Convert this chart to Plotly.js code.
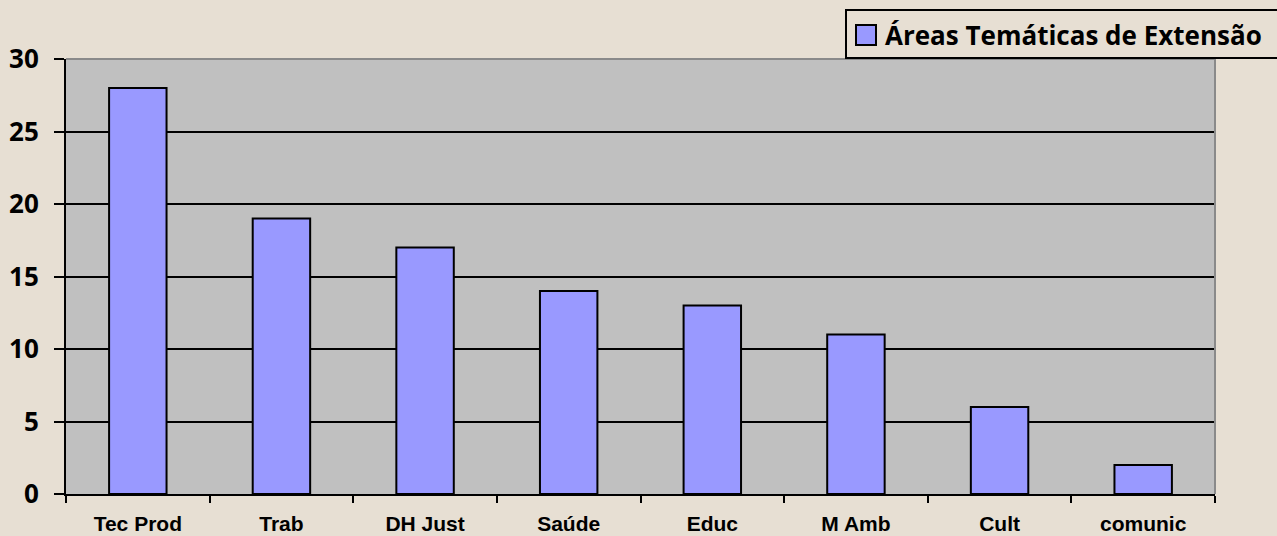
<!DOCTYPE html>
<html><head><meta charset="utf-8">
<script src="https://cdn.plot.ly/plotly-3.0.1.min.js"></script>
<style>html,body{margin:0;padding:0;background:#E7DFD3;}#chart{width:1277px;height:536px;}</style>
</head><body><div id="chart"></div>
<script>
const categories = ["Tec Prod","Trab","DH Just","Saúde","Educ","M Amb","Cult","comunic"];
const values = [28,19,17,14,13,11,6,2];
const seriesName = "Áreas Temáticas de Extensão";
const yTicks = [0,5,10,15,20,25,30];
const barColor = "#9999FF";

const trace = {
  type: "bar", x: categories, y: values, name: seriesName,
  marker: {color: barColor, line: {color: "#000000", width: 2}},
  showlegend: false, hoverinfo: "none"
};
// plot area: x 66..1215, y 59..494
const L = 66, R = 1215, T = 59, B = 494;
const pw = R - L, ph = B - T;
const px = v => (v - L) / pw;
const py = v => (B - v) / ph;
const layout = {
  width: 1277, height: 536,
  margin: {l: L, r: 1277 - R, t: T, b: 536 - B},
  paper_bgcolor: "#E7DFD3", plot_bgcolor: "#C0C0C0",
  bargap: 0.6,
  showlegend: false,
  xaxis: {type: "category", tickson: "boundaries", ticks: "outside", ticklen: 7, tickwidth: 2, tickcolor: "#000",
    ticklabelstandoff: 10,
    showline: true, linecolor: "#000", linewidth: 2, showgrid: false, mirror: false,
    tickfont: {family: "'Liberation Sans', Arial, sans-serif", size: 21, color: "#000", weight: "bold"}},
  yaxis: {range: [0, 30], tickvals: yTicks, ticks: "outside", ticklen: 10, tickwidth: 2, tickcolor: "#000",
    ticklabelstandoff: 10,
    showline: true, linecolor: "#000", linewidth: 2, showgrid: true, gridcolor: "#000", gridwidth: 2,
    zeroline: false,
    tickfont: {family: "'Open Sans', sans-serif", size: 26, color: "#000", weight: "bold"}},
  shapes: [
    {type: "line", xref: "paper", yref: "paper", x0: 0, x1: 1, y0: 1, y1: 1, line: {color: "#8A8A8A", width: 2}},
    {type: "line", xref: "paper", yref: "paper", x0: 1, x1: 1, y0: 0, y1: 1, line: {color: "#8A8A8A", width: 2}},
    // legend box
    {type: "rect", xref: "paper", yref: "paper", x0: px(846), x1: px(1290), y0: py(58), y1: py(10),
      line: {color: "#000", width: 2}, fillcolor: "rgba(0,0,0,0)"},
    // legend swatch
    {type: "rect", xref: "paper", yref: "paper", x0: px(856), x1: px(876), y0: py(45), y1: py(25),
      line: {color: "#000", width: 2}, fillcolor: barColor}
  ],
  annotations: [
    {xref: "paper", yref: "paper", x: px(883), y: py(35), xanchor: "left", yanchor: "middle",
      text: seriesName, showarrow: false,
      font: {family: "'Open Sans', sans-serif", size: 26, color: "#000", weight: "bold"}}
  ]
};
Plotly.newPlot("chart", [trace], layout, {displayModeBar: false, staticPlot: true});
</script></body></html>
